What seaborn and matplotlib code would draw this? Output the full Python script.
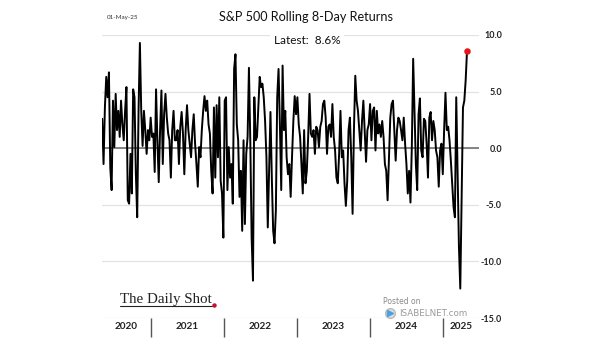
import numpy as np
import pandas as pd
import matplotlib
matplotlib.use("Agg")
import matplotlib.pyplot as plt
import seaborn as sns
from matplotlib.lines import Line2D

# ---- data (S&P 500 rolling 8-day returns, %) ----
ret_2020 = [2.6, -1.4, 3.6, 6.3, 4.5, 6.7, -1.7, -3.7, 4.2, 0.1, 4.8, 1.6, 3.3, 1.0,
            4.2, 2.1, 0.7, 3.3, 5.4, -4.6, -4.9, -0.5, -4.0, 5.2, 4.5, -2.3, -6.1,
            3.3, 9.3, 3.3, 0.2, 3.3, 1.6, -0.5, 1.6, 0.7, 2.7, 1.0, 1.3, -2.1, 5.2]
ret_2021 = [0.7, -3.0, 1.6, 5.1, -1.4, 3.0, 4.8, 2.7, 1.3, 0.7, -2.6, 1.6, 3.3, 0.7,
            0.7, 1.6, -1.4, 1.9, 3.2, 1.3, -2.3, 1.6, 3.8, 1.6, 0.4, -0.8, 1.6, 3.0,
            0.4, -1.4, -3.4, 0.1, -0.8, 1.6, 3.3, 4.6, 3.3, 4.2, 2.1, 1.3, -2.0, -4.0, 3.6]
ret_2022 = [-2.6, 3.8, -0.8, 4.5, -2.9, -4.0, -7.9, 4.2, 4.5, -3.7, 0.1, -2.6, -1.4,
            -4.9, 7.0, 8.3, 2.1, 0.7, -4.3, -2.0, -7.3, 0.7, -6.7, -0.5, 1.0, 7.1,
            0.7, -7.9, -11.7, 4.5, 0.7, 1.0, 3.6, 6.3, 5.4, 5.7, 4.5, 2.4, -0.8,
            -7.0, -2.0, 3.2, -2.6, -7.3]
ret_2023 = [-8.4, -5.5, 4.5, 7.0, 2.1, -3.7, 7.3, 1.6, 3.3, -0.8, -2.3, -1.4, -4.3,
            -0.8, 2.4, 4.6, 3.0, 4.5, 2.1, 1.0, -1.4, -4.0, 1.6, -3.1, -2.0, 1.0,
            4.8, 1.3, 1.0, 1.6, -0.5, 1.9, 1.6, 0.1, 1.9, 2.4, 3.9, 4.2, 2.7, -0.5,
            1.9, 2.1, 1.0, 3.9, 1.0, -0.2]
ret_2024 = [-2.6, -3.1, -0.5, 3.3, -0.8, -0.2, -3.1, -5.1, -2.9, 1.6, 2.7, -0.8,
            -5.8, 1.6, 6.4, 4.2, 3.3, 1.6, -0.2, 2.4, 4.2, 1.6, -1.2, 1.6, 2.1, 3.9,
            0.7, 3.3, 3.6, -0.2, 3.3, 1.3, 2.1, 1.0, 2.4, 1.0, -1.4, -2.0, -4.6,
            -0.8, 2.7, 3.9, 4.2, 1.6, -1.1]
ret_2025 = [1.6, 2.7, 2.4, 1.6, 0.7, 2.7, 0.4, -1.4, -4.0, -2.0, -4.8, 0.1, 7.9,
            3.3, -1.4, -3.7, 3.0, 4.4, -0.2, -0.8, 2.6, 2.4, 0.4, -2.6, 2.7, 3.2,
            0.7, 2.4, 1.6, -0.2, -0.8, -3.4, -0.2, 0.4, -2.3, 1.6, 4.9, 1.6, 1.9,
            0.7, -1.1, -3.1, -5.2, -6.1, 4.5, -2.0, -8.7, -12.4, -4.3, 3.6, 4.2,
            6.0, 8.6]
returns = ret_2020 + ret_2021 + ret_2022 + ret_2023 + ret_2024 + ret_2025
start_date = "2020-05-01"
end_date = "2025-05-01"

y_ticks = [10.0, 5.0, 0.0, -5.0, -10.0, -15.0]
years = [2020, 2021, 2022, 2023, 2024, 2025]
title = "S&P 500 Rolling 8-Day Returns"
latest_label = "Latest:  8.6%"
date_label = "01-May-25"

dates = pd.date_range(start_date, end_date, periods=len(returns))
df = pd.DataFrame({"date": dates, "ret": returns})

sns.set_theme(style="white")
plt.rcParams["font.family"] = ["Lato", "DejaVu Sans"]

W, H = 605, 341
fig = plt.figure(figsize=(W / 100, H / 100), dpi=100)
fig.patch.set_facecolor("white")
ax = fig.add_axes([102 / W, 23 / H, 377 / W, 283 / H])
ax.set_facecolor("white")

xmin, xmax = pd.Timestamp("2020-04-30"), pd.Timestamp("2025-06-30")
ax.set_xlim(xmin, xmax)
ax.set_ylim(-15, 10)

for v in y_ticks:
    ax.axhline(v, color="#e2e2e2", lw=0.9, zorder=0)
ax.axhline(0, color="#7a7a7a", lw=1.3, zorder=1)

sns.lineplot(data=df, x="date", y="ret", color="black", lw=1.4, ax=ax, zorder=3)
ax.scatter([df["date"].iloc[-1]], [df["ret"].iloc[-1]], color="#e8141b", s=22,
           zorder=5, linewidths=0)

for s in ax.spines.values():
    s.set_visible(False)
ax.set_xlabel("")
ax.set_ylabel("")

# y axis on right
ax.yaxis.tick_right()
ax.set_yticks(y_ticks)
ax.set_yticklabels([f"{v:.1f}" for v in y_ticks], fontsize=6.5, fontweight="bold",
                   color="#222222")
ax.tick_params(axis="y", length=0, pad=16.5)
for lab in ax.get_yticklabels():
    lab.set_horizontalalignment("right")

# x axis: separators at year boundaries, labels centered in each year
bounds = [pd.Timestamp(f"{y}-01-01") for y in years[1:]]
edges = [xmin] + bounds + [xmax]
centers = [edges[i] + (edges[i + 1] - edges[i]) / 2 for i in range(len(years))]
ax.set_xticks(bounds)
ax.set_xticklabels([])
ax.tick_params(axis="x", which="major", length=14, width=1.0, color="#555555",
               direction="out", bottom=True)
ax.set_xticks(centers, minor=True)
ax.set_xticklabels([str(y) for y in years], minor=True, fontsize=7.2,
                   fontweight="bold", color="#222222")
ax.tick_params(axis="x", which="minor", length=0, pad=3, bottom=True)

# texts
fig.text(306 / W, 1 - 17 / H, title, ha="center", va="center", fontsize=9.1,
         color="#111111")
fig.text(307 / W, 1 - 41 / H, latest_label, ha="center", va="center",
         fontsize=8.5, color="#111111", zorder=6,
         bbox=dict(boxstyle="square,pad=0.35", fc="white", ec="none"))
fig.text(123 / W, 1 - 18 / H, date_label, ha="center", va="center", fontsize=4.5,
         color="#333333")

# watermarks
fig.text(120 / W, 1 - 299 / H, "The Daily Shot", ha="left", va="center",
         fontsize=10.8, color="#222222", family=["Liberation Serif", "DejaVu Serif"])
fig.add_artist(Line2D([120 / W, 212 / W], [1 - 306 / H, 1 - 306 / H],
                      color="#222222", lw=0.8))
fig.add_artist(Line2D([214 / W], [1 - 305 / H], marker="o", ms=2.2,
                      color="#c8102e", lw=0))
fig.text(383 / W, 1 - 301 / H, "Posted on", ha="left", va="center", fontsize=5.5,
         color="#8a8a8a", family=["DejaVu Sans"])
fig.text(399 / W, 1 - 313 / H, "ISABELNET.com", ha="left", va="center",
         fontsize=6.3, color="#9a9a9a", family=["DejaVu Sans"])
fig.add_artist(Line2D([390 / W], [1 - 313 / H], marker="o", ms=7, color="#dddddd",
                      mec="#bbbbbb", lw=0))
fig.add_artist(Line2D([390 / W], [1 - 313 / H], marker=">", ms=4, color="#4aa3df",
                      lw=0))

fig.savefig("out.png", dpi=100, facecolor="white")
